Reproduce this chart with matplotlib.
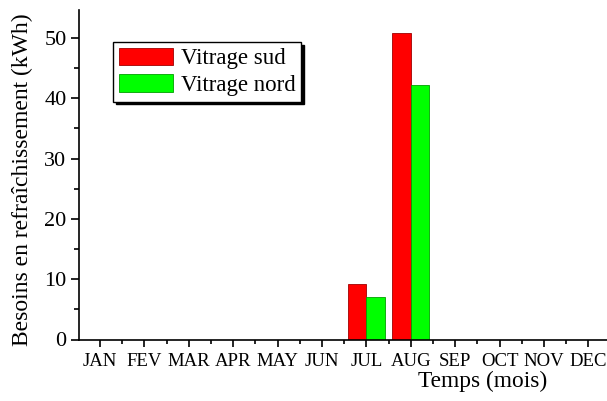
import matplotlib
matplotlib.use("Agg")
import matplotlib.pyplot as plt
from matplotlib.ticker import MultipleLocator

months = ["JAN", "FEV", "MAR", "APR", "MAY", "JUN", "JUL", "AUG", "SEP", "OCT", "NOV", "DEC"]
vitrage_sud = [0, 0, 0, 0, 0, 0, 9.2, 50.9, 0, 0, 0, 0]
vitrage_nord = [0, 0, 0, 0, 0, 0, 7.0, 42.2, 0, 0, 0, 0]

plt.rcParams['font.family'] = ['Liberation Serif', 'DejaVu Serif']

W, H = 607, 401
fig = plt.figure(figsize=(W / 100, H / 100), dpi=100)
ax_left, ax_right = 79, 607
ax_top, ax_bot = 10, 339.5
ax = fig.add_axes([ax_left / W, 1 - ax_bot / H, (ax_right - ax_left) / W, (ax_bot - ax_top) / H])

x = list(range(1, 13))
bw = 0.42
ax.bar(x, vitrage_sud, width=-bw, align='edge', color='#ff0000', edgecolor='#a00000', linewidth=0.6,
       label='Vitrage sud')
ax.bar(x, vitrage_nord, width=bw, align='edge', color='#00ff00', edgecolor='#00a000', linewidth=0.6,
       label='Vitrage nord')

px_per_month = 44.4
xmin = 1 - (100 - ax_left) / px_per_month
xmax = xmin + (ax_right - ax_left) / px_per_month
ax.set_xlim(xmin, xmax)
ax.set_ylim(0, (ax_bot - ax_top) / 6.03)

ax.set_xticks(x)
ax.set_xticklabels(months, fontsize=13.5)
ax.xaxis.set_minor_locator(MultipleLocator(0.5))
ax.yaxis.set_major_locator(MultipleLocator(10))
ax.yaxis.set_minor_locator(MultipleLocator(5))
ax.tick_params(axis='x', which='major', direction='out', length=5, width=1.2, pad=5)
ax.tick_params(axis='x', which='minor', direction='out', length=3, width=1.2)
ax.tick_params(axis='y', which='major', direction='out', length=6, width=1.2, pad=3, labelsize=16)
ax.tick_params(axis='y', which='minor', direction='out', length=3.5, width=1.2)

for s in ['top', 'right']:
    ax.spines[s].set_visible(False)
for s in ['left', 'bottom']:
    ax.spines[s].set_linewidth(1.2)

ax.set_xlabel('Temps (mois)', fontsize=16.8)
ax.xaxis.set_label_coords((483 - ax_left) / (ax_right - ax_left), -(371 - ax_bot) / (ax_bot - ax_top))
ax.set_ylabel('Besoins en refraîchissement (kWh)', fontsize=17, va='center')
ax.yaxis.set_label_coords((22 - ax_left) / (ax_right - ax_left), (ax_bot - 180) / (ax_bot - ax_top))

leg = ax.legend(loc='upper left', bbox_to_anchor=(113 / W, 1 - 42 / H), bbox_transform=fig.transFigure,
                fontsize=16.5, frameon=True, fancybox=False, edgecolor='black', framealpha=1,
                borderaxespad=0, borderpad=0.25, labelspacing=0.2, handlelength=2.35,
                handleheight=0.8, handletextpad=0.35,
                shadow={'color': 'black', 'alpha': 1})
leg.get_frame().set_linewidth(1.0)

fig.savefig('out.png', dpi=100)
